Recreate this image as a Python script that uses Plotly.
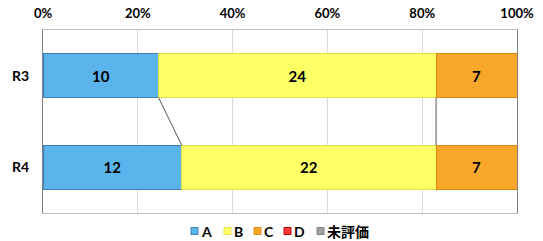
import plotly.graph_objects as go

categories = ["R3", "R4"]
series_names = ["A", "B", "C", "D", "未評価"]
A = [10, 12]
B = [24, 22]
C = [7, 7]
D = [0, 0]
U = [0, 0]
colors = ["#5BB4EC", "#FFFF66", "#F9A72B", "#FF3B3B", "#A0A0A0"]
edges = ["#3E7CB1", "#E0E050", "#D98A12", "#C00000", "#808080"]
tick_vals = [0, 20, 40, 60, 80, 100]
tick_text = ["0%", "20%", "40%", "60%", "80%", "100%"]

values = [A, B, C, D, U]
totals = [sum(v[i] for v in values) for i in range(len(categories))]
ypos = [1, 0]  # R3 on top
bw = 0.48

W, H = 543, 241
ML, MR, MT, MB = 43, 26, 30, 28
PW, PH = W - ML - MR, H - MT - MB

FONT = "Lato"

fig = go.Figure()
for name, vals, col, ec in zip(series_names, values, colors, edges):
    pct = [v / t * 100 for v, t in zip(vals, totals)]
    fig.add_trace(go.Bar(
        y=ypos, x=pct, orientation="h", name=name, width=bw,
        marker=dict(color=col, line=dict(color=ec, width=1)),
        text=[str(v) if v else "" for v in vals],
        textposition="inside", insidetextanchor="middle",
        textfont=dict(family=FONT, size=15, color="#000000", weight="bold"),
        hoverinfo="skip", showlegend=False,
    ))

# series lines between bars (cumulative boundaries)
cum = [0, 0]
for vals in values[:-1]:
    cum = [c + v for c, v in zip(cum, vals)]
    p = [c / t * 100 for c, t in zip(cum, totals)]
    if 0 < p[0] < 100:
        fig.add_trace(go.Scatter(
            x=[p[0], p[1]], y=[ypos[0] - bw / 2, ypos[1] + bw / 2],
            mode="lines", line=dict(color="#595959", width=1),
            showlegend=False, hoverinfo="skip",
        ))

# manual legend (pixel layout converted to paper coords)
leg_sq_left = [191, 224, 254, 284, 317]
leg_cy = 231
sq = 7
shapes = []
annotations = []
for name, col, ec, lx in zip(series_names, colors, edges, leg_sq_left):
    x0 = (lx - ML) / PW
    x1 = (lx + sq - ML) / PW
    y0 = (H - MB - (leg_cy + sq / 2)) / PH
    y1 = (H - MB - (leg_cy - sq / 2)) / PH
    shapes.append(dict(type="rect", xref="paper", yref="paper",
                       x0=x0, x1=x1, y0=y0, y1=y1,
                       fillcolor=col, line=dict(color=ec, width=1)))
    annotations.append(dict(
        text=name, xref="paper", yref="paper",
        x=(lx + sq + 1 - ML) / PW, y=(H - MB - leg_cy) / PH,
        xanchor="left", yanchor="middle", showarrow=False,
        font=dict(family=FONT if name != "未評価" else "Noto Sans CJK JP",
                  size=14, color="#000000", weight="bold"),
    ))

fig.update_layout(
    barmode="stack",
    width=W, height=H,
    margin=dict(l=ML, r=MR, t=MT, b=MB),
    paper_bgcolor="white", plot_bgcolor="white",
    font=dict(family=FONT, color="#000000"),
    showlegend=False,
    shapes=shapes, annotations=annotations,
    xaxis=dict(
        range=[0, 100], side="top", tickvals=tick_vals, ticktext=tick_text,
        showgrid=True, gridcolor="#D9D9D9", gridwidth=1,
        showline=True, linecolor="#BFBFBF", mirror=True, zeroline=False,
        tickfont=dict(family=FONT, size=13, color="#000000", weight="bold"),
        ticks="", automargin=False, ticklabelstandoff=6,
    ),
    yaxis=dict(
        range=[-0.5, 1.5], tickvals=ypos, ticktext=categories,
        showgrid=False, showline=True, linecolor="#7F7F7F", mirror=True,
        zeroline=False, ticks="", automargin=False, ticklabelstandoff=10,
        tickfont=dict(family=FONT, size=14, color="#000000", weight="bold"),
    ),
)

fig.write_html("out.html", config={"displayModeBar": False, "staticPlot": True})

# remove default page margin so the figure sits at the window's top-left
with open("out.html", "r", encoding="utf-8") as f:
    html = f.read()
html = html.replace("<body>", '<body style="margin:0;padding:0;overflow:hidden">', 1)
with open("out.html", "w", encoding="utf-8") as f:
    f.write(html)
